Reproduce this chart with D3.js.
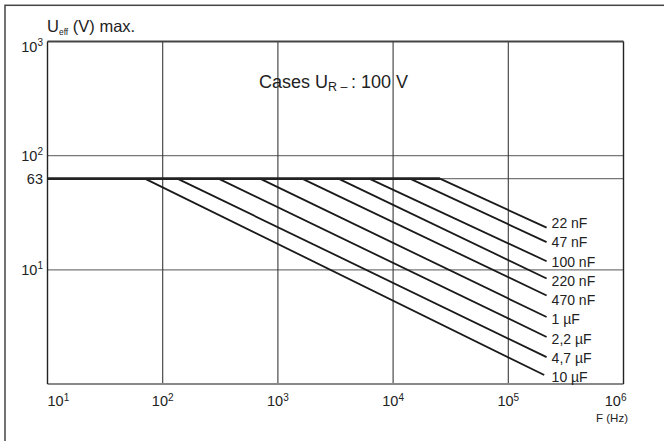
<!DOCTYPE html>
<html>
<head>
<meta charset="utf-8">
<script src="https://cdn.jsdelivr.net/npm/d3@7/dist/d3.min.js"></script>
<style>
  html, body { margin: 0; padding: 0; background: #fff; }
  svg { display: block; font-family: "Liberation Sans", Arial, sans-serif; }
</style>
</head>
<body>
<svg id="chart" width="664" height="441"></svg>
<script>
// Frequency axis ticks (Hz) and their exponents
const freqTicks = [10, 100, 1e3, 1e4, 1e5, 1e6];
const freqExponents = ["1", "2", "3", "4", "5", "6"];

// Voltage axis ticks (V) and their labels
const voltTicks = [10, 63, 100, 1000];
const voltBase = ["10", "63", "10", "10"];
const voltExponents = ["1", "", "2", "3"];

// Capacitance curves: rated level, break frequency, end point of the sloped part
const ratedVolt = 63;
const capLabels = ["22 nF", "47 nF", "100 nF", "220 nF", "470 nF", "1 µF", "2,2 µF", "4,7 µF", "10 µF"];
const breakFreq = [25500, 14000, 6200, 3350, 1620, 700, 305, 134, 70];
const endFreq   = [215000, 215000, 215000, 215000, 215000, 215000, 215000, 215000, 205000];
const endVolt   = [23.4, 17.5, 11.9, 8.4, 5.96, 3.86, 2.58, 1.72, 1.2];

const svg = d3.select("#chart");
const plot = { left: 47.5, right: 623.5, top: 41.5, bottom: 384 };

const x = d3.scaleLog().domain([10, 1e6]).range([plot.left, plot.right]);
const y = d3.scaleLog().domain([1, 1000]).range([plot.bottom, plot.top]);

// Outer frame (left and top edges)
svg.append("rect")
  .attr("x", 5).attr("y", 5.3).attr("width", 700).attr("height", 500)
  .attr("fill", "none").attr("stroke", "#444").attr("stroke-width", 1.5);

// Horizontal grid lines
svg.append("g").selectAll("line")
  .data(voltTicks.filter(v => v < 1000))
  .join("line")
  .attr("x1", plot.left).attr("x2", plot.right)
  .attr("y1", d => y(d)).attr("y2", d => y(d))
  .attr("stroke", "#777").attr("stroke-width", 1.2);

// Vertical grid lines
svg.append("g").selectAll("line")
  .data(freqTicks.slice(1, -1))
  .join("line")
  .attr("x1", d => x(d)).attr("x2", d => x(d))
  .attr("y1", plot.top).attr("y2", plot.bottom)
  .attr("stroke", "#3a3a3a").attr("stroke-width", 1.1);

// Plot frame
svg.append("line").attr("x1", plot.left).attr("x2", plot.right)
  .attr("y1", plot.bottom).attr("y2", plot.bottom)
  .attr("stroke", "#888").attr("stroke-width", 2);
svg.append("line").attr("x1", plot.left).attr("x2", plot.right)
  .attr("y1", plot.top).attr("y2", plot.top)
  .attr("stroke", "#444").attr("stroke-width", 1.8);
svg.append("line").attr("x1", plot.left).attr("x2", plot.left)
  .attr("y1", plot.top).attr("y2", plot.bottom)
  .attr("stroke", "#222").attr("stroke-width", 1.4);
svg.append("line").attr("x1", plot.right).attr("x2", plot.right)
  .attr("y1", plot.top).attr("y2", plot.bottom)
  .attr("stroke", "#222").attr("stroke-width", 1.4);

// Sloped parts of the curves
const line = d3.line().x(d => x(d[0])).y(d => y(d[1]));
svg.append("g").selectAll("path")
  .data(capLabels.map((c, i) => [[breakFreq[i], ratedVolt], [endFreq[i], endVolt[i]]]))
  .join("path")
  .attr("d", line)
  .attr("fill", "none").attr("stroke", "#1a1a1a").attr("stroke-width", 1.8);

// Common flat part at the rated voltage
svg.append("path")
  .attr("d", line([[10, ratedVolt], [d3.max(breakFreq), ratedVolt]]))
  .attr("fill", "none").attr("stroke", "#222").attr("stroke-width", 2.8);

// Curve labels, evenly stacked beside the line ends
const n = capLabels.length;
const firstY = y(endVolt[0]) - 4.5;
const lastY = y(endVolt[n - 1]) + 2;
const labelY = d3.scaleLinear().domain([0, n - 1]).range([firstY, lastY]);
svg.append("g").selectAll("text")
  .data(capLabels)
  .join("text")
  .attr("x", x(endFreq[0]) + 5)
  .attr("y", (d, i) => labelY(i))
  .attr("dy", "0.36em")
  .attr("font-size", 14).attr("fill", "#222")
  .text(d => d);

// Y tick labels
const yLab = svg.append("g").selectAll("text")
  .data(voltTicks)
  .join("text")
  .attr("x", 43)
  .attr("y", d => d === 1000 ? y(d) + 5.5 : y(d))
  .attr("dy", "0.36em")
  .attr("text-anchor", "end")
  .attr("font-size", 14.5).attr("fill", "#222");
yLab.append("tspan").text((d, i) => voltBase[i]);
yLab.append("tspan")
  .attr("font-size", 10).attr("dy", "-0.6em")
  .text((d, i) => voltExponents[i]);

// X tick labels
const xLab = svg.append("g").selectAll("text")
  .data(freqTicks)
  .join("text")
  .attr("x", (d, i) => i === freqTicks.length - 1 ? x(d) + 3 : x(d))
  .attr("y", 406)
  .attr("text-anchor", (d, i) => i === 0 ? "start" : i === freqTicks.length - 1 ? "end" : "middle")
  .attr("font-size", 14.5).attr("fill", "#222");
xLab.append("tspan").text("10");
xLab.append("tspan")
  .attr("font-size", 10).attr("dy", "-0.55em")
  .text((d, i) => freqExponents[i]);

// Axis titles
svg.append("text")
  .attr("x", 628).attr("y", 422)
  .attr("text-anchor", "end")
  .attr("font-size", 11.5).attr("fill", "#222")
  .text("F (Hz)");

const yTitle = svg.append("text")
  .attr("x", 47).attr("y", 31.5)
  .attr("font-size", 16.5).attr("fill", "#222");
yTitle.append("tspan").text("U");
yTitle.append("tspan").attr("font-size", 8.5).attr("dy", 3.5).text("eff");
yTitle.append("tspan").attr("dy", -3.5).text(" (V) max.");

// Series note
const note = svg.append("text")
  .attr("x", 259).attr("y", 88.3)
  .attr("font-size", 18).attr("fill", "#222");
note.append("tspan").text("Cases U");
note.append("tspan").attr("font-size", 12.5).attr("dy", 3).text("R – ");
note.append("tspan").attr("dy", -3).text(": 100 V");
</script>
</body>
</html>
